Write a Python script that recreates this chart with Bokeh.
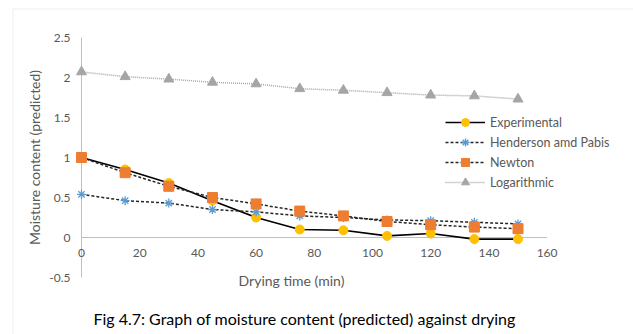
from bokeh.plotting import figure
from bokeh.models import Legend, LegendItem, Label, BoxAnnotation
from bokeh.core.properties import value
from bokeh.embed import file_html
from bokeh.resources import INLINE

# Drying time (min)
time_min = [0, 15, 30, 45, 60, 75, 90, 105, 120, 135, 150]

# Moisture content series
experimental = [1.00, 0.85, 0.68, 0.46, 0.25, 0.10, 0.09, 0.02, 0.05, -0.02, -0.02]
henderson_pabis = [0.54, 0.46, 0.43, 0.35, 0.32, 0.27, 0.25, 0.22, 0.21, 0.19, 0.17]
newton = [1.00, 0.81, 0.64, 0.50, 0.42, 0.33, 0.27, 0.20, 0.16, 0.13, 0.11]
logarithmic = [2.07, 2.01, 1.98, 1.94, 1.92, 1.86, 1.84, 1.81, 1.78, 1.77, 1.73]

x_ticks = [0, 20, 40, 60, 80, 100, 120, 140, 160]
y_ticks = [-0.5, 0, 0.5, 1, 1.5, 2, 2.5]
y_tick_labels = ["-0.5", "0", "0.5", "1", "1.5", "2", "2.5"]

W, H = 633, 334
# pixel box of the plot area inside the canvas
AREA_LEFT, AREA_RIGHT, AREA_TOP, AREA_BOTTOM = 81, 546.6, 37, 277

FONT = "Lato"
TICK_COLOR = "#595959"
AXIS_COLOR = "#bfbfbf"

# the frame covers the whole canvas; ranges are widened so that the
# tick extents land on the plot-area box
x_per_px = (x_ticks[-1] - x_ticks[0]) / (AREA_RIGHT - AREA_LEFT)
y_per_px = (y_ticks[-1] - y_ticks[0]) / (AREA_BOTTOM - AREA_TOP)
x_range = (x_ticks[0] - AREA_LEFT * x_per_px, x_ticks[-1] + (W - AREA_RIGHT) * x_per_px)
y_range = (y_ticks[0] - (H - AREA_BOTTOM) * y_per_px, y_ticks[-1] + AREA_TOP * y_per_px)

p = figure(width=W, height=H, output_backend="svg", toolbar_location=None,
           x_range=x_range, y_range=y_range,
           min_border=0, x_axis_location=None, y_axis_location=None)
p.background_fill_color = "white"
p.border_fill_color = "white"
p.outline_line_color = None
p.xgrid.visible = False
p.ygrid.visible = False

# axis lines: vertical at x = 0, horizontal at y = 0
p.segment(x0=[x_ticks[0]], y0=[y_ticks[0]], x1=[x_ticks[0]], y1=[y_ticks[-1]],
          line_color=AXIS_COLOR, line_width=1)
p.segment(x0=[x_ticks[0]], y0=[0], x1=[x_ticks[-1]], y1=[0],
          line_color=AXIS_COLOR, line_width=1)

# tick labels
p.text(x=x_ticks, y=[0] * len(x_ticks), text=[str(t) for t in x_ticks],
       y_offset=11, text_align="center", text_baseline="top",
       text_font=value(FONT), text_font_size="12px", text_color=TICK_COLOR)
p.text(x=[x_ticks[0]] * len(y_ticks), y=y_ticks, text=y_tick_labels,
       x_offset=-11, text_align="right", text_baseline="middle",
       text_font=value(FONT), text_font_size="12px", text_color=TICK_COLOR)

# series
exp_line = p.line(time_min, experimental, line_color="black", line_width=1.6)
exp_pts = p.scatter(time_min, experimental, marker="circle", size=9,
                    fill_color="#FFC000", line_color="#FFC000")

hp_line = p.line(time_min, henderson_pabis, line_color="#262626", line_width=1.5,
                 line_dash="3 2")
hp_pts = p.scatter(time_min, henderson_pabis, marker="asterisk", size=9,
                   line_color="#5B9BD5", line_width=1.3)

nw_line = p.line(time_min, newton, line_color="#262626", line_width=1.5,
                 line_dash="3 2")
nw_pts = p.scatter(time_min, newton, marker="square", size=10,
                   fill_color="#ED7D31", line_color="#ED7D31")

lg_line = p.line(time_min, logarithmic, line_color="#a6a6a6", line_width=1.5,
                 line_dash="1 1")
lg_pts = p.scatter(time_min, logarithmic, marker="triangle", size=10,
                   fill_color="#A5A5A5", line_color="#A5A5A5")

legend = Legend(items=[
    LegendItem(label="Experimental", renderers=[exp_line, exp_pts]),
    LegendItem(label="Henderson amd Pabis", renderers=[hp_line, hp_pts]),
    LegendItem(label="Newton", renderers=[nw_line, nw_pts]),
    LegendItem(label="Logarithmic", renderers=[lg_line, lg_pts]),
], location=(445, 142))
legend.glyph_width = 40
legend.glyph_height = 20
legend.label_height = 20
legend.spacing = 0
legend.padding = 0
legend.margin = 0
legend.label_standoff = 5
legend.border_line_color = None
legend.background_fill_alpha = 0
legend.label_text_font = FONT
legend.label_text_font_size = "12.5px"
legend.label_text_color = TICK_COLOR
p.add_layout(legend, "center")

# axis titles and figure caption
p.add_layout(Label(x=34, y=157, x_units="canvas", y_units="canvas", angle=90,
                   angle_units="deg", text="Moisture content (predicted)",
                   text_font=FONT, text_font_size="14px", text_color=TICK_COLOR,
                   text_align="center", text_baseline="middle"))
p.add_layout(Label(x=291, y=280, x_units="canvas", y_units="canvas",
                   text="Drying time (min)", text_font=FONT, text_font_size="14px",
                   text_color=TICK_COLOR, text_align="center", text_baseline="middle"))
p.add_layout(Label(x=304, y=318, x_units="canvas", y_units="canvas",
                   text="Fig 4.7: Graph of moisture content (predicted) against drying",
                   text_font=FONT, text_font_size="16px", text_color="black",
                   text_align="center", text_baseline="middle"))

# chart area border
p.add_layout(BoxAnnotation(left=12.5, right=W + 20, top=8.5, bottom=H + 20,
                           left_units="canvas", right_units="canvas",
                           top_units="canvas", bottom_units="canvas",
                           fill_alpha=0, line_color="#d9d9d9", line_width=1.5))

open("out.html", "w").write(file_html(p, INLINE))
